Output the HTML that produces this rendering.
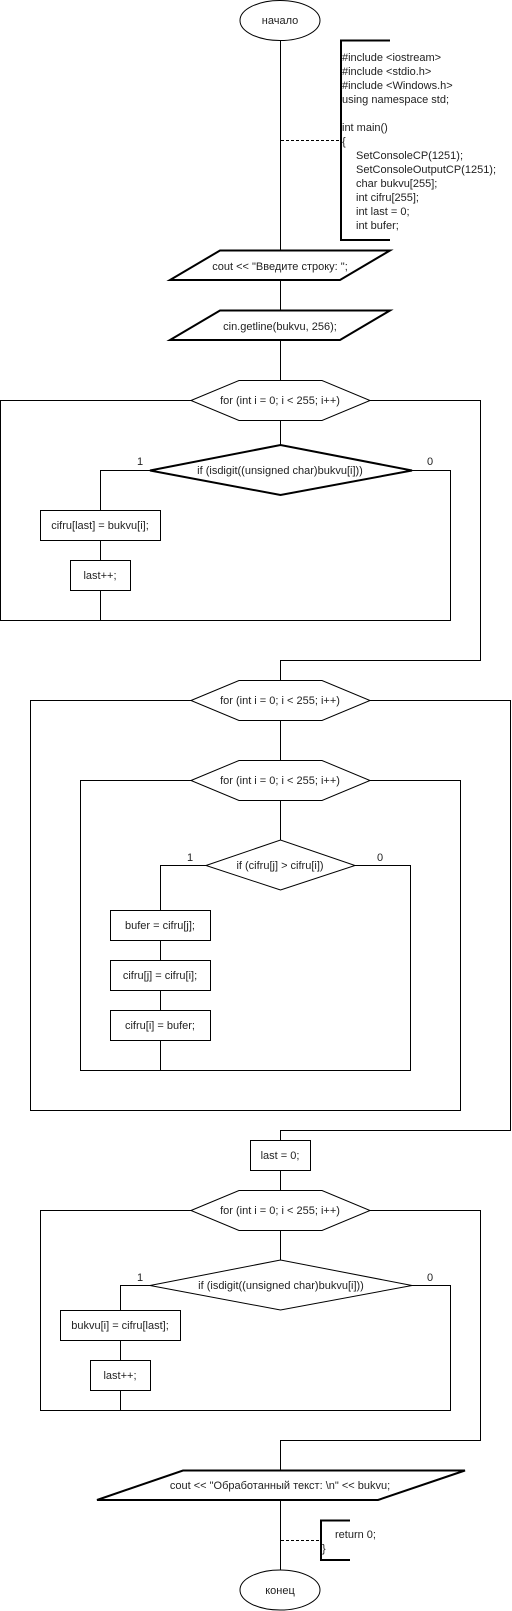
<!DOCTYPE html>
<html><head><meta charset="utf-8"><style>
html,body{margin:0;padding:0;background:#fff;}
svg{display:block;}
text{font-family:"Liberation Sans","Noto Sans CJK SC",sans-serif;font-size:11px;fill:#222;}
</style></head><body>
<svg width="512" height="1611" viewBox="0 0 512 1611" xmlns="http://www.w3.org/2000/svg">
<g fill="none" stroke="#000" stroke-width="1">
<!-- main spine top -->
<line x1="280.5" y1="40" x2="280.5" y2="250"/>
<line x1="280.5" y1="280" x2="280.5" y2="310"/>
<line x1="280.5" y1="340" x2="280.5" y2="380"/>
<line x1="281" y1="140.5" x2="340" y2="140.5" stroke-dasharray="3,2"/>
<!-- loop 1 -->
<polyline points="191,400.5 0.5,400.5 0.5,620.5 450.5,620.5 450.5,470.5 412,470.5"/>
<polyline points="370,400.5 480.5,400.5 480.5,660.5 280.5,660.5 280.5,680"/>
<line x1="280.5" y1="420" x2="280.5" y2="445"/>
<polyline points="150,470.5 100.5,470.5 100.5,510"/>
<line x1="100.5" y1="540" x2="100.5" y2="560"/>
<line x1="100.5" y1="590" x2="100.5" y2="620"/>
<rect x="40.5" y="510.5" width="120" height="30"/>
<rect x="70.5" y="560.5" width="60" height="30"/>
<!-- loop 2 outer -->
<polyline points="191,700.5 30.5,700.5 30.5,1110.5 460.5,1110.5 460.5,780.5 370,780.5"/>
<polyline points="370,700.5 510.5,700.5 510.5,1130.5 280.5,1130.5 280.5,1140"/>
<line x1="280.5" y1="720" x2="280.5" y2="760"/>
<polyline points="191,780.5 80.5,780.5 80.5,1070.5 410.5,1070.5 410.5,865.5 355,865.5"/>
<line x1="280.5" y1="800" x2="280.5" y2="840"/>
<polyline points="206,865.5 160.5,865.5 160.5,910"/>
<line x1="160.5" y1="940" x2="160.5" y2="960"/>
<line x1="160.5" y1="990" x2="160.5" y2="1010"/>
<line x1="160.5" y1="1040" x2="160.5" y2="1070"/>
<rect x="110.5" y="910.5" width="100" height="30"/>
<rect x="110.5" y="960.5" width="100" height="30"/>
<rect x="110.5" y="1010.5" width="100" height="30"/>
<!-- last=0 -->
<rect x="250.5" y="1140.5" width="60" height="30"/>
<line x1="280.5" y1="1170" x2="280.5" y2="1190"/>
<!-- loop 3 -->
<polyline points="191,1210.5 40.5,1210.5 40.5,1410.5 450.5,1410.5 450.5,1285.5 412,1285.5"/>
<polyline points="370,1210.5 480.5,1210.5 480.5,1440.5 280.5,1440.5 280.5,1470"/>
<line x1="280.5" y1="1230" x2="280.5" y2="1260"/>
<polyline points="150,1285.5 120.5,1285.5 120.5,1310"/>
<line x1="120.5" y1="1340" x2="120.5" y2="1360"/>
<line x1="120.5" y1="1390" x2="120.5" y2="1410"/>
<rect x="60.5" y="1310.5" width="120" height="30"/>
<rect x="90.5" y="1360.5" width="60" height="30"/>
<!-- end -->
<line x1="280.5" y1="1500" x2="280.5" y2="1570"/>
<line x1="281" y1="1540.5" x2="320" y2="1540.5" stroke-dasharray="3,2"/>
<!-- ellipses -->
<ellipse cx="280" cy="20.5" rx="40" ry="20"/>
<ellipse cx="280" cy="1590" rx="40" ry="20"/>
<!-- hexagons -->
<polygon points="191,400.5 239,380.5 322,380.5 370,400.5 322,420.5 239,420.5"/>
<polygon points="191,700.5 239,680.5 322,680.5 370,700.5 322,720.5 239,720.5"/>
<polygon points="191,780.5 239,760.5 322,760.5 370,780.5 322,800.5 239,800.5"/>
<polygon points="191,1210.5 239,1190.5 322,1190.5 370,1210.5 322,1230.5 239,1230.5"/>
<!-- diamonds -->
<polygon points="150,470.5 280.5,445 412,470.5 280.5,495" stroke-width="2"/>
<polygon points="206,865.5 280.5,840 355,865.5 280.5,890"/>
<polygon points="150,1285.5 280.5,1260 412,1285.5 280.5,1310"/>
<!-- parallelograms -->
<polygon points="220,250.5 390,250.5 340,280 170,280" stroke-width="2"/>
<polygon points="220,310.5 390,310.5 340,340 170,340" stroke-width="2"/>
<polygon points="183,1470.5 465,1470.5 378,1500 97,1500" stroke-width="2"/>
<!-- brackets -->
<polyline points="390,40.5 341,40.5 341,240 390,240" stroke-width="2"/>
<polyline points="350,1520.5 321,1520.5 321,1560 350,1560" stroke-width="2"/>
</g>
<text x="280" y="24" text-anchor="middle">начало</text>
<text x="280" y="1594" text-anchor="middle">конец</text>
<text x="342" y="61">#include &lt;iostream&gt;</text>
<text x="342" y="75">#include &lt;stdio.h&gt;</text>
<text x="342" y="89">#include &lt;Windows.h&gt;</text>
<text x="342" y="103">using namespace std;</text>
<text x="342" y="131">int main()</text>
<text x="342" y="145">{</text>
<text x="356" y="159">SetConsoleCP(1251);</text>
<text x="356" y="173">SetConsoleOutputCP(1251);</text>
<text x="356" y="187">char bukvu[255];</text>
<text x="356" y="201">int cifru[255];</text>
<text x="356" y="215">int last = 0;</text>
<text x="356" y="229">int bufer;</text>
<text x="280" y="270" text-anchor="middle">cout &lt;&lt; "Введите строку: ";</text>
<text x="280" y="330" text-anchor="middle">cin.getline(bukvu, 256);</text>
<text x="280" y="404" text-anchor="middle">for (int i = 0; i &lt; 255; i++)</text>
<text x="280" y="474" text-anchor="middle">if (isdigit((unsigned char)bukvu[i]))</text>
<text x="140" y="465" text-anchor="middle">1</text>
<text x="430" y="465" text-anchor="middle">0</text>
<text x="100" y="529" text-anchor="middle">cifru[last] = bukvu[i];</text>
<text x="100" y="579" text-anchor="middle">last++;</text>
<text x="280" y="704" text-anchor="middle">for (int i = 0; i &lt; 255; i++)</text>
<text x="280" y="784" text-anchor="middle">for (int i = 0; i &lt; 255; i++)</text>
<text x="280" y="869" text-anchor="middle">if (cifru[j] &gt; cifru[i])</text>
<text x="190" y="861" text-anchor="middle">1</text>
<text x="380" y="861" text-anchor="middle">0</text>
<text x="160" y="929" text-anchor="middle">bufer = cifru[j];</text>
<text x="160" y="979" text-anchor="middle">cifru[j] = cifru[i];</text>
<text x="160" y="1029" text-anchor="middle">cifru[i] = bufer;</text>
<text x="280" y="1159" text-anchor="middle">last = 0;</text>
<text x="280" y="1214" text-anchor="middle">for (int i = 0; i &lt; 255; i++)</text>
<text x="281" y="1289" text-anchor="middle">if (isdigit((unsigned char)bukvu[i]))</text>
<text x="140" y="1281" text-anchor="middle">1</text>
<text x="430" y="1281" text-anchor="middle">0</text>
<text x="120" y="1329" text-anchor="middle">bukvu[i] = cifru[last];</text>
<text x="120" y="1379" text-anchor="middle">last++;</text>
<text x="280" y="1489" text-anchor="middle">cout &lt;&lt; "Обработанный текст: \n" &lt;&lt; bukvu;</text>
<text x="335" y="1538">return 0;</text>
<text x="322" y="1552">}</text>
</svg>
</body></html>
